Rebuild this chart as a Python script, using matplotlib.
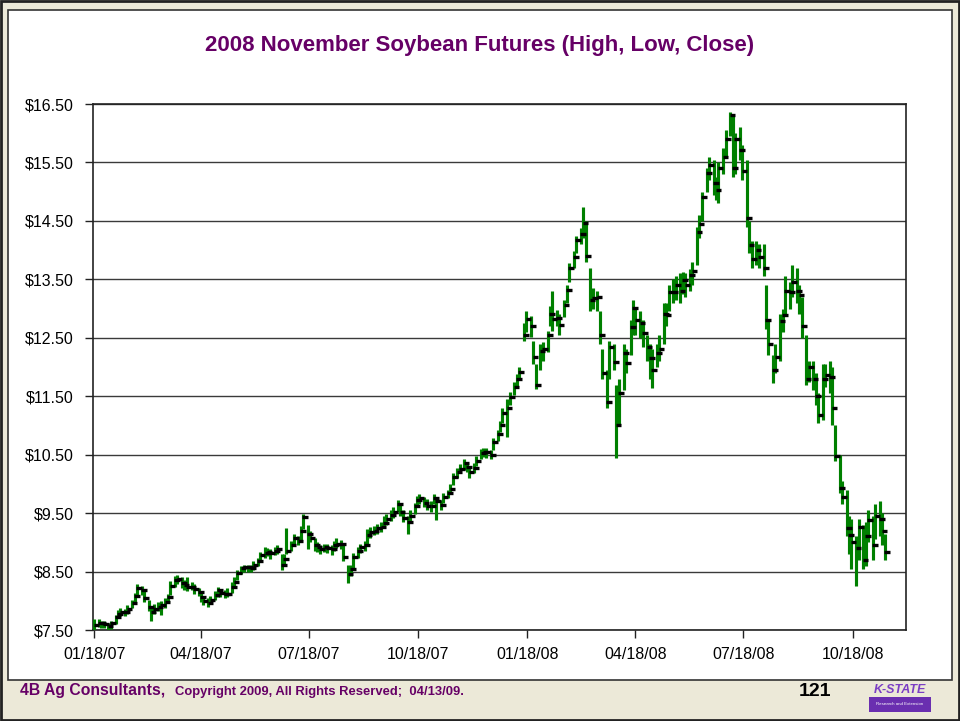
import numpy as np
import pandas as pd
import matplotlib
matplotlib.use('Agg')
import matplotlib.pyplot as plt
import matplotlib.dates as mdates
from matplotlib.patches import Rectangle

plt.rcParams['font.family'] = ['Liberation Sans', 'DejaVu Sans']

# Nov 2008 soybeans, one bar every second trading day ($/bu)
close = [7.58, 7.62, 7.62, 7.60, 7.57, 7.62, 7.72, 7.78, 7.81, 7.80,
         7.86, 7.96, 8.08, 8.22, 8.18, 8.05, 7.90, 7.80, 7.86, 7.90,
         7.93, 7.98, 8.06, 8.26, 8.36, 8.38, 8.30, 8.27, 8.24, 8.24,
         8.20, 8.15, 8.06, 8.00, 7.97, 8.01, 8.10, 8.18, 8.13, 8.11,
         8.12, 8.24, 8.32, 8.48, 8.56, 8.58, 8.57, 8.56, 8.62, 8.68,
         8.78, 8.82, 8.83, 8.81, 8.86, 8.88, 8.62, 8.72, 8.85, 8.95,
         9.07, 9.02, 9.20, 9.43, 9.15, 9.08, 8.95, 8.92, 8.88, 8.92,
         8.90, 8.88, 8.95, 8.98, 8.98, 8.75, 8.45, 8.55, 8.75, 8.85,
         8.92, 8.95, 9.12, 9.18, 9.20, 9.24, 9.27, 9.33, 9.40, 9.46,
         9.52, 9.66, 9.52, 9.42, 9.35, 9.45, 9.62, 9.73, 9.76, 9.68,
         9.62, 9.62, 9.76, 9.70, 9.64, 9.78, 9.84, 9.92, 10.12, 10.20,
         10.26, 10.36, 10.29, 10.20, 10.28, 10.40, 10.52, 10.55, 10.54, 10.50,
         10.72, 10.85, 11.00, 11.22, 11.30, 11.49, 11.66, 11.80, 11.92, 12.55,
         12.82, 12.70, 12.17, 11.70, 12.28, 12.30, 12.55, 12.90, 12.82, 12.84,
         12.72, 13.06, 13.32, 13.70, 13.88, 14.17, 14.28, 14.46, 13.90, 13.15,
         13.18, 13.20, 12.55, 11.90, 11.40, 12.35, 12.09, 11.00, 11.55, 12.24,
         12.07, 12.68, 13.01, 12.80, 12.75, 12.58, 12.34, 12.15, 11.95, 12.24,
         12.30, 12.90, 12.89, 13.28, 13.28, 13.40, 13.30, 13.49, 13.40, 13.57,
         13.65, 14.31, 14.45, 14.91, 15.32, 15.45, 15.15, 15.03, 15.40, 15.60,
         15.90, 16.31, 15.40, 15.90, 15.72, 15.35, 14.55, 14.09, 13.84, 14.00,
         13.88, 13.70, 12.80, 12.40, 11.95, 12.17, 12.78, 12.89, 13.30, 13.28,
         13.45, 13.30, 13.23, 12.70, 11.80, 12.00, 11.80, 11.50, 11.18, 11.80,
         11.86, 11.83, 11.30, 10.48, 9.93, 9.78, 9.25, 9.13, 9.00, 8.90,
         9.26, 8.70, 9.10, 9.38, 8.95, 9.45, 9.40, 9.20, 8.83]

high = [7.68, 7.68, 7.66, 7.65, 7.62, 7.66, 7.76, 7.84, 7.88, 7.86,
        7.92, 8.02, 8.14, 8.28, 8.25, 8.18, 8.02, 7.90, 7.94, 7.98,
        8.00, 8.04, 8.12, 8.34, 8.42, 8.44, 8.40, 8.36, 8.40, 8.32,
        8.28, 8.22, 8.14, 8.06, 8.04, 8.08, 8.16, 8.24, 8.20, 8.18,
        8.22, 8.32, 8.40, 8.52, 8.60, 8.62, 8.62, 8.62, 8.68, 8.74,
        8.84, 8.92, 8.90, 8.88, 8.92, 8.95, 8.80, 8.80, 9.25, 9.02,
        9.14, 9.10, 9.28, 9.48, 9.30, 9.20, 9.08, 9.00, 8.96, 8.98,
        8.98, 8.96, 9.02, 9.08, 9.04, 8.95, 8.62, 8.62, 8.82, 8.92,
        8.98, 9.02, 9.22, 9.26, 9.28, 9.32, 9.34, 9.45, 9.48, 9.55,
        9.60, 9.72, 9.68, 9.55, 9.45, 9.55, 9.68, 9.80, 9.82, 9.78,
        9.74, 9.70, 9.82, 9.78, 9.72, 9.84, 9.90, 10.00, 10.18, 10.28,
        10.34, 10.42, 10.38, 10.30, 10.36, 10.48, 10.60, 10.62, 10.62, 10.58,
        10.78, 10.92, 11.08, 11.30, 11.45, 11.58, 11.75, 11.88, 12.00, 12.75,
        12.95, 12.88, 12.45, 12.05, 12.40, 12.42, 12.62, 13.05, 13.30, 12.98,
        12.90, 13.15, 13.40, 13.78, 13.98, 14.25, 14.38, 14.74, 14.50, 13.70,
        13.35, 13.30, 12.95, 12.30, 11.95, 12.45, 12.40, 11.70, 11.80, 12.40,
        12.30, 12.80, 13.15, 13.00, 12.95, 12.80, 12.55, 12.40, 12.30, 12.40,
        12.55, 13.10, 13.10, 13.40, 13.50, 13.55, 13.60, 13.62, 13.60, 13.68,
        13.80, 14.40, 14.60, 15.00, 15.40, 15.60, 15.55, 15.25, 15.50, 15.75,
        16.05, 16.36, 16.30, 16.00, 16.10, 15.80, 15.55, 14.50, 14.15, 14.15,
        14.10, 14.10, 13.40, 12.80, 12.20, 12.40, 12.90, 13.00, 13.55, 13.45,
        13.75, 13.70, 13.40, 13.20, 12.55, 12.10, 12.10, 11.90, 11.55, 12.05,
        12.05, 12.10, 12.00, 11.00, 10.50, 10.05, 9.90, 9.45, 9.40, 9.10,
        9.40, 9.30, 9.35, 9.55, 9.45, 9.65, 9.70, 9.50, 9.15]

low = [7.48, 7.55, 7.54, 7.53, 7.50, 7.52, 7.60, 7.70, 7.74, 7.74,
       7.78, 7.88, 7.98, 8.10, 8.10, 7.98, 7.82, 7.66, 7.78, 7.82,
       7.76, 7.88, 7.96, 8.10, 8.24, 8.28, 8.22, 8.18, 8.16, 8.18,
       8.12, 8.08, 7.98, 7.92, 7.90, 7.94, 8.02, 8.06, 8.06, 8.04,
       8.06, 8.14, 8.24, 8.36, 8.46, 8.50, 8.50, 8.50, 8.52, 8.60,
       8.66, 8.74, 8.76, 8.72, 8.78, 8.80, 8.53, 8.62, 8.80, 8.86,
       8.95, 8.95, 9.02, 9.22, 8.88, 9.00, 8.86, 8.84, 8.80, 8.84,
       8.82, 8.78, 8.86, 8.90, 8.88, 8.68, 8.30, 8.42, 8.55, 8.74,
       8.82, 8.86, 8.98, 9.08, 9.12, 9.15, 9.18, 9.24, 9.30, 9.36,
       9.42, 9.52, 9.45, 9.34, 9.15, 9.36, 9.48, 9.62, 9.66, 9.60,
       9.55, 9.52, 9.66, 9.38, 9.56, 9.68, 9.76, 9.84, 9.98, 10.10,
       10.18, 10.24, 10.20, 10.10, 10.18, 10.30, 10.42, 10.46, 10.45, 10.42,
       10.58, 10.74, 10.88, 11.05, 10.80, 11.35, 11.52, 11.66, 11.78, 12.45,
       12.60, 12.52, 12.05, 11.62, 11.95, 12.10, 12.25, 12.70, 12.62, 12.70,
       12.55, 12.85, 13.10, 13.45, 13.70, 13.95, 14.10, 14.20, 13.80, 12.95,
       13.00, 12.95, 12.40, 11.80, 11.30, 11.80, 11.95, 10.45, 11.00, 11.60,
       11.90, 12.20, 12.55, 12.55, 12.50, 12.35, 12.10, 11.80, 11.64, 12.00,
       12.10, 12.40, 12.70, 12.95, 13.10, 13.15, 13.10, 13.25, 13.20, 13.30,
       13.40, 13.75, 14.20, 14.50, 15.00, 15.20, 14.95, 14.85, 14.80, 15.30,
       15.60, 15.95, 15.25, 15.30, 15.55, 15.20, 14.40, 13.95, 13.70, 13.75,
       13.70, 13.55, 12.65, 12.20, 11.72, 11.90, 12.10, 12.60, 12.90, 13.00,
       13.20, 13.10, 12.90, 12.50, 11.70, 11.75, 11.60, 11.35, 11.05, 11.10,
       11.65, 11.55, 11.00, 10.40, 9.85, 9.65, 9.10, 8.80, 8.55, 8.25,
       8.70, 8.55, 8.60, 9.00, 8.70, 9.05, 9.10, 8.95, 8.70]

dates = pd.bdate_range('2007-01-18', periods=len(close), freq='2B')

tick_dates = pd.to_datetime(['2007-01-18', '2007-04-18', '2007-07-18', '2007-10-18',
                             '2008-01-18', '2008-04-18', '2008-07-18', '2008-10-18'])
price_ticks = np.arange(7.5, 16.51, 1.0)

purple = '#660066'
green = '#008000'

fig = plt.figure(figsize=(9.6, 7.21), dpi=100)
fig.patch.set_facecolor('#ECE9D8')

W, H = 960.0, 721.0
# outer frame and white slide panel, kept behind the axes
fig.patches.append(Rectangle((1 / W, 1 / H), 1 - 2 / W, 1 - 2 / H, transform=fig.transFigure,
                             fill=False, edgecolor='#222222', linewidth=2.0, zorder=-20))
fig.patches.append(Rectangle((8 / W, 41 / H), 944 / W, 670 / H, transform=fig.transFigure,
                             facecolor='white', edgecolor='#333333', linewidth=1.2, zorder=-10))

ax = fig.add_axes([93 / W, 91 / H, 813 / W, 526 / H])
ax.set_facecolor('white')

ax.vlines(dates, low, high, color=green, linewidth=2.25, zorder=3)
ax.hlines(close, dates - pd.Timedelta(days=0.5), dates + pd.Timedelta(days=4.2),
          color='black', linewidth=2.4, zorder=4)

ax.set_ylim(7.5, 16.5)
ax.set_xlim(pd.Timestamp('2007-01-17'), pd.Timestamp('2008-12-02'))
ax.set_yticks(price_ticks)
ax.set_yticklabels(['$%.2f' % p for p in price_ticks])
ax.set_xticks(tick_dates)
ax.xaxis.set_major_formatter(mdates.DateFormatter('%m/%d/%y'))

ax.grid(axis='y', color='#3a3a3a', linewidth=1.0, zorder=1)
ax.set_axisbelow(True)
for s in ax.spines.values():
    s.set_color('#222222')
    s.set_linewidth(1.2)
ax.tick_params(axis='both', direction='out', length=6, width=1.0, color='#222222',
               labelsize=11.5, labelcolor='black')
ax.tick_params(axis='x', pad=6)
ax.tick_params(axis='y', pad=8)

fig.text(0.5, 1 - 45 / H, '2008 November Soybean Futures (High, Low, Close)',
         ha='center', va='center', fontsize=16, fontweight='bold', color=purple)

fig.text(20 / W, 1 - 691 / H, '4B Ag Consultants,', ha='left', va='center',
         fontsize=11.3, fontweight='bold', color=purple)
fig.text(175 / W, 1 - 692 / H, 'Copyright 2009, All Rights Reserved;  04/13/09.',
         ha='left', va='center', fontsize=9.4, fontweight='bold', color=purple)
fig.text(815 / W, 1 - 691 / H, '121', ha='center', va='center',
         fontsize=14, fontweight='bold', color='black')

# small university badge in the corner
fig.patches.append(Rectangle((869 / W, (721 - 712) / H), 62 / W, 15 / H, transform=fig.transFigure,
                             facecolor='#6a2fb0', edgecolor='none'))
fig.text(900 / W, 1 - 690 / H, 'K-STATE', ha='center', va='center', fontsize=9,
         fontweight='bold', fontstyle='italic', color='#7b3fc4')
fig.text(900 / W, 1 - 704 / H, 'Research and Extension', ha='center', va='center',
         fontsize=3.2, color='white')

fig.savefig('out.png', dpi=100, facecolor=fig.get_facecolor())
